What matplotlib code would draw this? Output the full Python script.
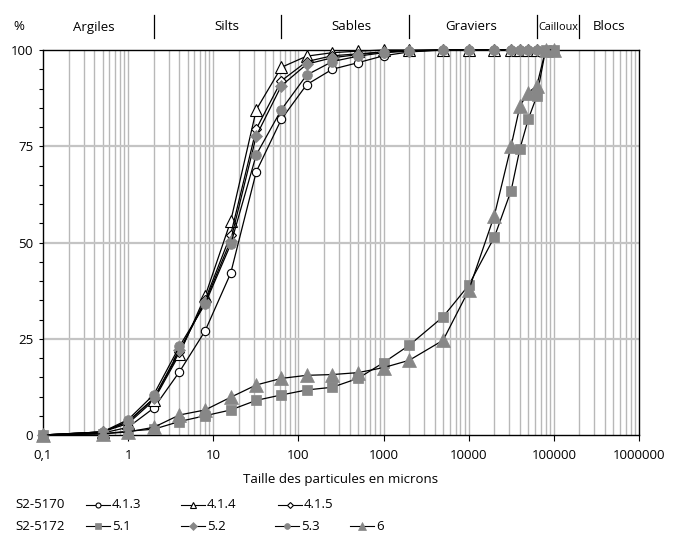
import matplotlib
matplotlib.use("Agg")
import matplotlib.pyplot as plt
from matplotlib.lines import Line2D
import matplotlib.transforms as mtransforms
import numpy as np

plt.rcParams['font.family'] = ['Open Sans', 'DejaVu Sans']

# ---- data ----
sizes_fine = [0.1, 0.5, 1, 2, 4, 8, 16, 32, 63, 125, 250, 500, 1000, 2000, 5000,
              10000, 20000, 31500, 40000, 50000, 63000]
s_413 = [0, 0.5, 2.0, 7.0, 16.4, 27.0, 42.0, 68.4, 82.0, 91.0, 95.0, 96.7, 98.5, 99.5, 100,
         100, 100, 100, 100, 100, 100]
s_414 = [0, 0.8, 3.0, 9.0, 21.0, 36.0, 55.5, 84.5, 95.5, 98.4, 99.3, 99.7, 100, 100, 100,
         100, 100, 100, 100, 100, 100]
s_415 = [0, 0.8, 3.5, 9.5, 21.5, 35.0, 52.0, 79.5, 92.0, 97.0, 98.5, 99.0, 99.5, 99.8, 100,
         100, 100, 100, 100, 100, 100]
s_52 = [0, 0.8, 3.5, 9.5, 22.0, 34.5, 50.5, 77.7, 90.7, 96.3, 98.0, 98.8, 99.5, 99.8, 100,
        100, 100, 100, 100, 100, 100]
s_53 = [0, 0.8, 4.0, 10.5, 23.0, 34.0, 49.5, 72.8, 84.5, 93.5, 97.0, 98.4, 99.3, 99.7, 100,
        100, 100, 100, 100, 100, 100]

sizes_coarse = [0.1, 0.5, 1, 2, 4, 8, 16, 32, 63, 125, 250, 500, 1000, 2000, 5000,
                10000, 20000, 31500, 40000, 50000, 63000, 80000, 100000]
s_51 = [0, 0.3, 1.0, 1.5, 3.5, 5.0, 6.5, 9.0, 10.4, 11.7, 12.4, 14.7, 18.8, 23.3, 30.7,
        38.9, 51.4, 63.5, 74.4, 82.0, 88.0, 100, 100]
s_6 = [0, 0.3, 0.8, 2.0, 5.2, 6.5, 9.8, 13.0, 14.7, 15.5, 15.7, 16.2, 17.5, 19.4, 24.6,
       37.6, 57.0, 75.1, 85.5, 88.9, 90.7, 100, 100]

class_bounds = [2, 63, 2000, 63000, 200000]
class_names = ['Argiles', 'Silts', 'Sables', 'Graviers', 'Cailloux', 'Blocs']
class_centers = [0.4, 14.6, 418, 10800, 112000, 445000]
xticks = [0.1, 1, 10, 100, 1000, 10000, 100000, 1000000]
xticklabels = ['0,1', '1', '10', '100', '1000', '10000', '100000', '1000000']
yticks = [0, 25, 50, 75, 100]

GRAY = '#878787'
FS = 9.5

W, H = 675, 544
fig = plt.figure(figsize=(W / 100, H / 100), dpi=100)
ax = fig.add_axes([43 / W, 1 - 435 / H, (639 - 43) / W, (435 - 50) / H])

ax.set_xscale('log')
ax.set_xlim(0.1, 1e6)
ax.set_ylim(0, 100)

# grid
for dec in range(-1, 6):
    for m in range(1, 10):
        v = m * 10.0 ** dec
        if v <= 0.1 or v >= 1e6:
            continue
        ax.axvline(v, color='#b8b8b8', lw=1.0, zorder=0)
for yv in [25, 50, 75]:
    ax.axhline(yv, color='#c4c4c4', lw=1.6, zorder=0)

series = [
    (sizes_fine, s_413, dict(marker='o', ms=6.0, mfc='white', mec='black', mew=0.8)),
    (sizes_fine, s_414, dict(marker='^', ms=8.0, mfc='white', mec='black', mew=0.8)),
    (sizes_fine, s_415, dict(marker='D', ms=5.0, mfc='white', mec='black', mew=0.8)),
    (sizes_coarse, s_51, dict(marker='s', ms=6.5, mfc=GRAY, mec=GRAY, mew=0.5)),
    (sizes_fine, s_52, dict(marker='D', ms=6.5, mfc=GRAY, mec=GRAY, mew=0.5)),
    (sizes_fine, s_53, dict(marker='o', ms=7.0, mfc=GRAY, mec=GRAY, mew=0.5)),
    (sizes_coarse, s_6, dict(marker='^', ms=9.5, mfc=GRAY, mec=GRAY, mew=0.5)),
]
for xs, ys, st in series:
    ax.plot(xs, ys, color='black', lw=0.9, clip_on=False, zorder=3, **st)

# axes styling
for sp in ax.spines.values():
    sp.set_color('black')
    sp.set_linewidth(1.0)
ax.set_xticks(xticks)
ax.set_xticklabels(xticklabels, fontsize=FS)
ax.xaxis.set_minor_locator(matplotlib.ticker.NullLocator())
ax.tick_params(axis='x', direction='out', length=4, width=0.8, pad=6)
ax.set_yticks(yticks)
ax.set_yticklabels([str(v) for v in yticks], fontsize=FS)
ax.set_yticks(np.arange(0, 101, 5), minor=True)
ax.tick_params(axis='y', which='both', direction='out', length=3, width=0.8, pad=4)
ax.set_xlabel('Taille des particules en microns', fontsize=FS, labelpad=8)

# header classes
trans = mtransforms.blended_transform_factory(ax.transData, fig.transFigure)
for b in class_bounds:
    fig.add_artist(Line2D([b, b], [1 - 15 / H, 1 - 38 / H], transform=trans,
                          color='black', lw=0.9))
for name, c in zip(class_names, class_centers):
    fs = 7.8 if name == 'Cailloux' else FS
    fig.text(c, 1 - 27 / H, name, transform=trans, ha='center', va='center',
             fontsize=fs)
fig.text(19 / W, 1 - 27 / H, '%', ha='center', va='center', fontsize=FS)

# legend (manual)
def leg_item(x0, y, label, st):
    xs = [x0 / W, (x0 + 24) / W]
    yy = [1 - y / H, 1 - y / H]
    fig.add_artist(Line2D(xs, yy, transform=fig.transFigure, color='black', lw=0.8))
    st2 = dict(st)
    st2['ms'] = st['ms'] * 0.6
    fig.add_artist(Line2D([(x0 + 12) / W], [1 - y / H], transform=fig.transFigure,
                          linestyle='none', **st2))
    fig.text((x0 + 26) / W, 1 - y / H, label, ha='left', va='center', fontsize=FS)

fig.text(15 / W, 1 - 505 / H, 'S2-5170', ha='left', va='center', fontsize=FS)
fig.text(15 / W, 1 - 526 / H, 'S2-5172', ha='left', va='center', fontsize=FS)
leg_item(86, 505, '4.1.3', series[0][2])
leg_item(181, 505, '4.1.4', series[1][2])
leg_item(278, 505, '4.1.5', series[2][2])
leg_item(86, 526, '5.1', series[3][2])
leg_item(181, 526, '5.2', series[4][2])
leg_item(275, 526, '5.3', series[5][2])
leg_item(350, 526, '6', series[6][2])

fig.savefig('out.png', dpi=100)
